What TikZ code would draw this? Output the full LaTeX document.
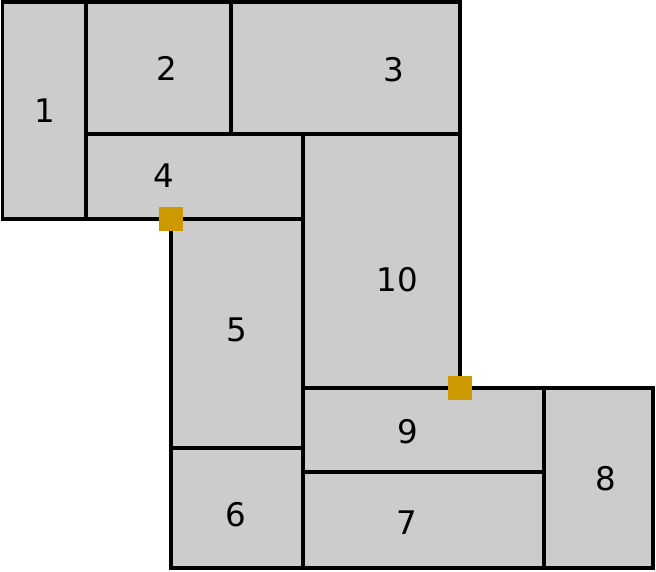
\documentclass[tikz,border=0pt]{standalone}
\usepackage{fontspec}
\setmainfont{DejaVu Sans}
\definecolor{roomfill}{HTML}{CCCCCC}
\definecolor{doorcol}{HTML}{CC9900}
\begin{document}
\begin{tikzpicture}[x=1pt,y=-1pt,
  room/.style={fill=roomfill,draw=black,line width=3.8pt,line join=miter},
  lbl/.style={font=\fontsize{32.5}{38}\selectfont,inner sep=0pt},
  door/.style={fill=doorcol,draw=none,minimum size=24pt,inner sep=0pt}]
\useasboundingbox (0,0) rectangle (656,571);
% rooms
\path[room] (2.5,2) rectangle (86,219);
\path[room] (86,2) rectangle (231,134);
\path[room] (231,2) rectangle (460,134);
\path[room] (86,134) rectangle (303,219);
\path[room] (303,134) rectangle (460,388);
\path[room] (171,219) rectangle (303,448);
\path[room] (171,448) rectangle (303,568);
\path[room] (303,388) rectangle (544,472);
\path[room] (303,472) rectangle (544,568);
\path[room] (544,388) rectangle (653,568);
% labels
\node[lbl] (l1) at (44.5,110.5) {1};
\node[lbl] (l2) at (167,68.7) {2};
\node[lbl] (l3) at (394,69.8) {3};
\node[lbl] (l4) at (164,176) {4};
\node[lbl] (l5) at (236.7,330) {5};
\node[lbl] (l6) at (235.5,514.7) {6};
\node[lbl] (l7) at (407,522.5) {7};
\node[lbl] (l8) at (606,479) {8};
\node[lbl] (l9) at (408,431.3) {9};
\node[lbl] (l10) at (397.5,280) {10};
% doors
\node[door] (d1) at (170.5,219) {};
\node[door] (d2) at (460,388) {};
\end{tikzpicture}
\end{document}
